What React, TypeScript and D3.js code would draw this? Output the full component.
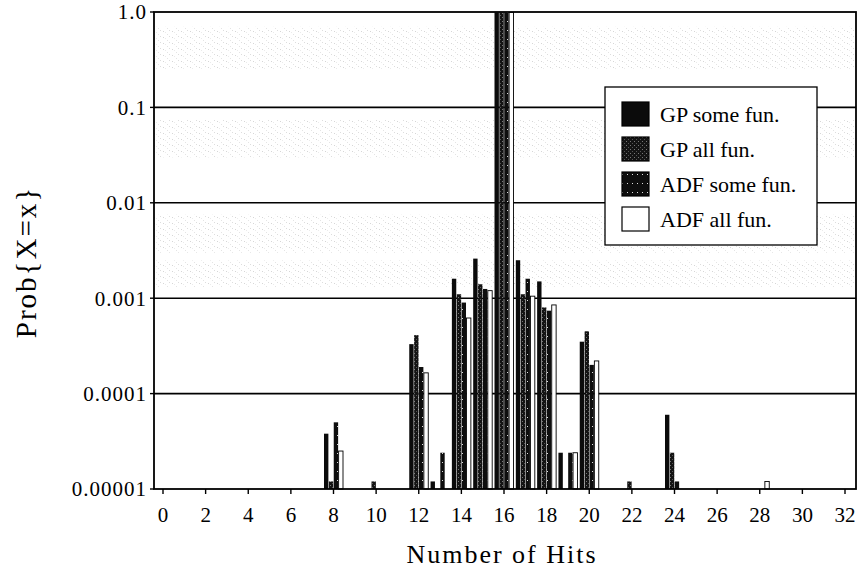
import React from 'react';
import * as d3 from 'd3';

// hits 0..32, values only where the reference shows a bar
const hits = [8, 10, 12, 13, 14, 15, 16, 17, 18, 19, 20, 22, 24, 28];
const gpSome = [3.8e-5, 0, 3.3e-4, 1.2e-5, 1.6e-3, 2.6e-3, 0.99, 2.5e-3, 1.5e-3, 2.4e-5, 3.5e-4, 0, 6e-5, 0];
const gpAll = [1.2e-5, 1.2e-5, 4.1e-4, 0, 1.1e-3, 1.4e-3, 0.99, 1.1e-3, 8e-4, 0, 4.5e-4, 1.2e-5, 2.4e-5, 0];
const adfSome = [5e-5, 0, 1.9e-4, 2.4e-5, 9e-4, 1.25e-3, 0.99, 1.6e-3, 7.4e-4, 2.4e-5, 2e-4, 0, 1.2e-5, 0];
const adfAll = [2.5e-5, 0, 1.65e-4, 0, 6.2e-4, 1.2e-3, 0.99, 1.05e-3, 8.5e-4, 2.4e-5, 2.2e-4, 0, 0, 1.2e-5];

const seriesNames = ['GP some fun.', 'GP all fun.', 'ADF some fun.', 'ADF all fun.'];
const seriesValues = [gpSome, gpAll, adfSome, adfAll];
const xTicks = d3.range(0, 33, 2);
const yTicks = [1, 0.1, 0.01, 0.001, 0.0001, 0.00001];
const yTickLabels = ['1.0', '0.1', '0.01', '0.001', '0.0001', '0.00001'];

const W = 858;
const H = 573;
const font = '"Liberation Serif", "Times New Roman", serif';

const fills = ['#0b0b0b', 'url(#gpAll)', 'url(#adfSome)', '#ffffff'];

export default function App() {
  const x = d3.scaleLinear().domain([0, 32]).range([163, 845]);
  const y = d3.scaleLog().domain([1e-5, 1]).range([489, 12]);
  const band = d3.scaleBand<number>().domain([0, 1, 2, 3]).range([-9.5, 9.5]).paddingInner(0.1);

  const left = x(0) - 9;
  const right = x(32) + 11;
  const top = y(1);
  const bottom = y(1e-5);

  // speckled grey bands of the scanned background
  const bands = [
    [y(0.7), y(0.25)],
    [y(0.075), y(0.03)],
    [y(0.0075), y(0.003)],
    [y(0.0025), y(0.0013)],
  ];

  return (
    <svg width={W} height={H} style={{ position: 'absolute', left: 0, top: 0, background: '#fff' }}>
      <defs>
        <pattern id="speckle" width="9" height="6" patternUnits="userSpaceOnUse">
          <rect x="1" y="1" width="1" height="1" fill="#999" />
          <rect x="5" y="4" width="1" height="1" fill="#bbb" />
          <rect x="7" y="0" width="1" height="1" fill="#aaa" />
          <rect x="3" y="2" width="1" height="1" fill="#ccc" />
        </pattern>
        <pattern id="gpAll" width="4" height="4" patternUnits="userSpaceOnUse">
          <rect width="4" height="4" fill="#141414" />
          <rect x="2" y="1" width="1" height="1" fill="#777" />
          <rect x="0" y="3" width="1" height="1" fill="#555" />
        </pattern>
        <pattern id="adfSome" width="5" height="9" patternUnits="userSpaceOnUse">
          <rect width="5" height="9" fill="#0e0e0e" />
          <rect x="2" y="3" width="1" height="1" fill="#ddd" />
        </pattern>
      </defs>

      {bands.map(([y0, y1], i) => (
        <rect key={i} x={left} y={y0} width={right - left} height={y1 - y0} fill="url(#speckle)" opacity={0.4} />
      ))}

      {/* grid lines */}
      {yTicks.slice(1, -1).map(t => (
        <line key={t} x1={left} x2={right} y1={y(t)} y2={y(t)} stroke="#000" strokeWidth={1.6} />
      ))}

      {/* bars */}
      {seriesValues.map((vals, s) =>
        vals.map((v, i) =>
          v > 0 ? (
            <rect
              key={`${s}-${i}`}
              x={x(hits[i]) + (band(s) ?? 0)}
              y={y(v)}
              width={band.bandwidth()}
              height={bottom - y(v)}
              fill={fills[s]}
              stroke={s === 3 ? '#000' : 'none'}
              strokeWidth={s === 3 ? 0.9 : 0}
            />
          ) : null
        )
      )}

      {/* frame */}
      <rect x={left} y={top} width={right - left} height={bottom - top} fill="none" stroke="#000" strokeWidth={1.8} />

      {/* y axis */}
      {yTicks.map((t, i) => (
        <g key={t}>
          <line x1={left - 4} x2={left} y1={y(t)} y2={y(t)} stroke="#000" strokeWidth={1.4} />
          <text x={left - 7} y={y(t)} dy="0.35em" textAnchor="end" fontFamily={font} fontSize={21} letterSpacing={1} fill="#000">
            {yTickLabels[i]}
          </text>
        </g>
      ))}

      {/* x axis */}
      {xTicks.map(t => (
        <g key={t}>
          <line x1={x(t)} x2={x(t)} y1={bottom} y2={bottom + 5} stroke="#000" strokeWidth={1.4} />
          <text x={x(t)} y={bottom + 33} textAnchor="middle" fontFamily={font} fontSize={21} fill="#000">
            {t}
          </text>
        </g>
      ))}

      <text x={502} y={563} textAnchor="middle" fontFamily={font} fontSize={26} letterSpacing={2} fill="#000">
        Number of Hits
      </text>
      <text
        transform={`translate(36, 262) rotate(-90)`}
        textAnchor="middle"
        fontFamily={font}
        fontSize={29}
        letterSpacing={2}
        fill="#000"
      >
        Prob{'{'}X=x{'}'}
      </text>

      {/* legend */}
      <g>
        <rect x={605} y={87} width={212} height={158} fill="#fff" stroke="#000" strokeWidth={1.3} />
        {seriesNames.map((name, i) => {
          const cy = 114 + i * 35;
          return (
            <g key={name}>
              <rect
                x={622}
                y={cy - 12}
                width={27}
                height={24}
                fill={fills[i]}
                stroke="#000"
                strokeWidth={1.2}
              />
              <text x={660} y={cy} dy="0.35em" fontFamily={font} fontSize={22} fill="#000">
                {name}
              </text>
            </g>
          );
        })}
      </g>
    </svg>
  );
}
